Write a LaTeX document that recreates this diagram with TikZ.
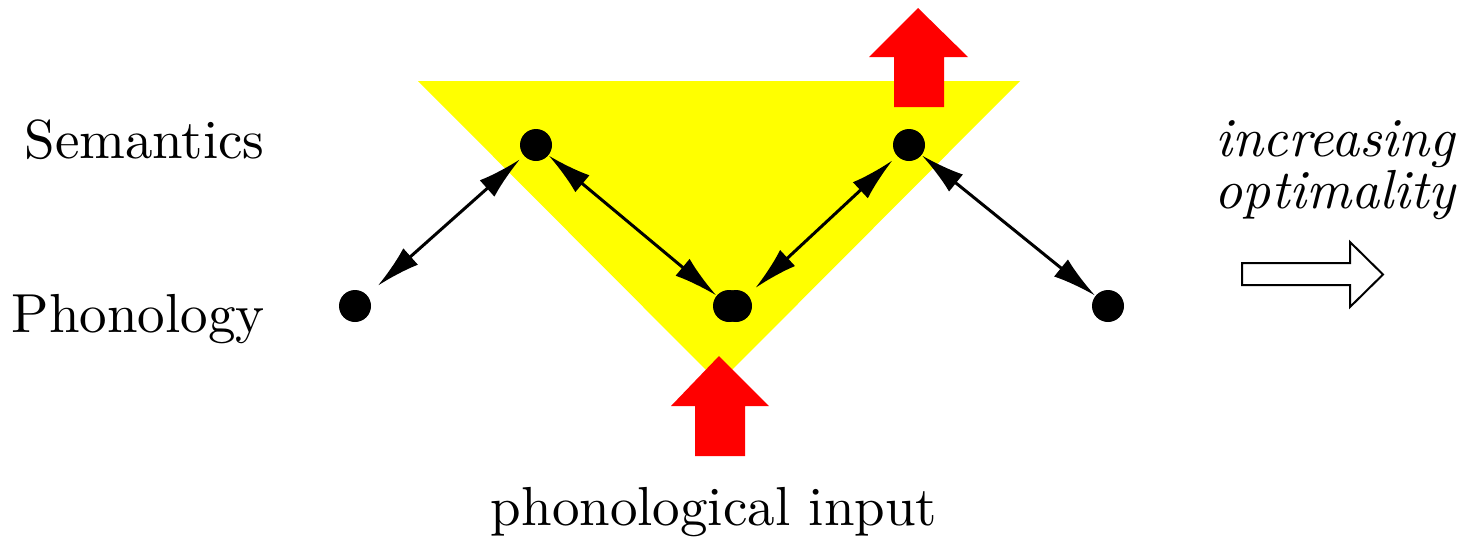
\documentclass[tikz,border=0pt]{standalone}
\usepackage{fontspec}
\setmainfont{lmroman10-regular.otf}[ItalicFont=lmroman10-italic.otf]
\usetikzlibrary{arrows.meta}
\definecolor{pureyellow}{RGB}{255,255,0}
\definecolor{purered}{RGB}{255,0,0}
\begin{document}
\begin{tikzpicture}[x=0.5pt,y=-0.5pt,
  dot/.style={circle,fill=black,inner sep=0pt,minimum size=16pt},
  link/.style={{Latex[length=22pt,width=11pt]}-{Latex[length=22pt,width=11pt]},line width=1.5pt},
  lbl/.style={inner sep=0pt,font=\fontsize{27.5}{33}\selectfont},
  ilbl/.style={lbl,font=\fontsize{27.5}{33}\selectfont\itshape},
  bigred/.style={fill=purered},
  hollow/.style={draw=black,fill=white,line width=1pt}]
\useasboundingbox (0,0) rectangle (1458,542);
% yellow triangle
\fill[pureyellow] (418,81) -- (1020,81) -- (719,383) -- cycle;
% red arrows
\fill[bigred] (918,8) -- (968,57) -- (944,57) -- (944,107) -- (894,107) -- (894,57) -- (869,57) -- cycle;
\fill[bigred] (719,356) -- (769,406) -- (745,406) -- (745,456) -- (695,456) -- (695,406) -- (671,406) -- cycle;
% dots
\node[dot] (s1) at (536,145) {};
\node[dot] (s2) at (909,145) {};
\node[dot] (pl) at (355,306) {};
\node[dot] (m1) at (729,306) {};
\node[dot] (m2) at (736,306) {};
\node[dot] (pr) at (1108,306) {};
% connectors
\draw[link,shorten <=7pt,shorten >=2.5pt] (pl) -- (s1);
\draw[link] (s1) -- (m1);
\draw[link,shorten <=5pt,shorten >=3pt] (m2) -- (s2);
\draw[link] (s2) -- (pr);
% hollow arrow
\draw[hollow] (1242,263) -- (1350,263) -- (1350,242) -- (1383,274.5) -- (1350,307) -- (1350,285) -- (1242,285) -- cycle;
% labels
\node[lbl,anchor=base east] (sem) at (265,158) {Semantics};
\node[lbl,anchor=base east] (pho) at (265,332) {Phonology};
\node[lbl,anchor=base] (inp) at (714,525) {phonological input};
\node[ilbl,anchor=base] (inc) at (1335,156) {increasing};
\node[ilbl,anchor=base] (opt) at (1335,208) {optimality};
\end{tikzpicture}
\end{document}
